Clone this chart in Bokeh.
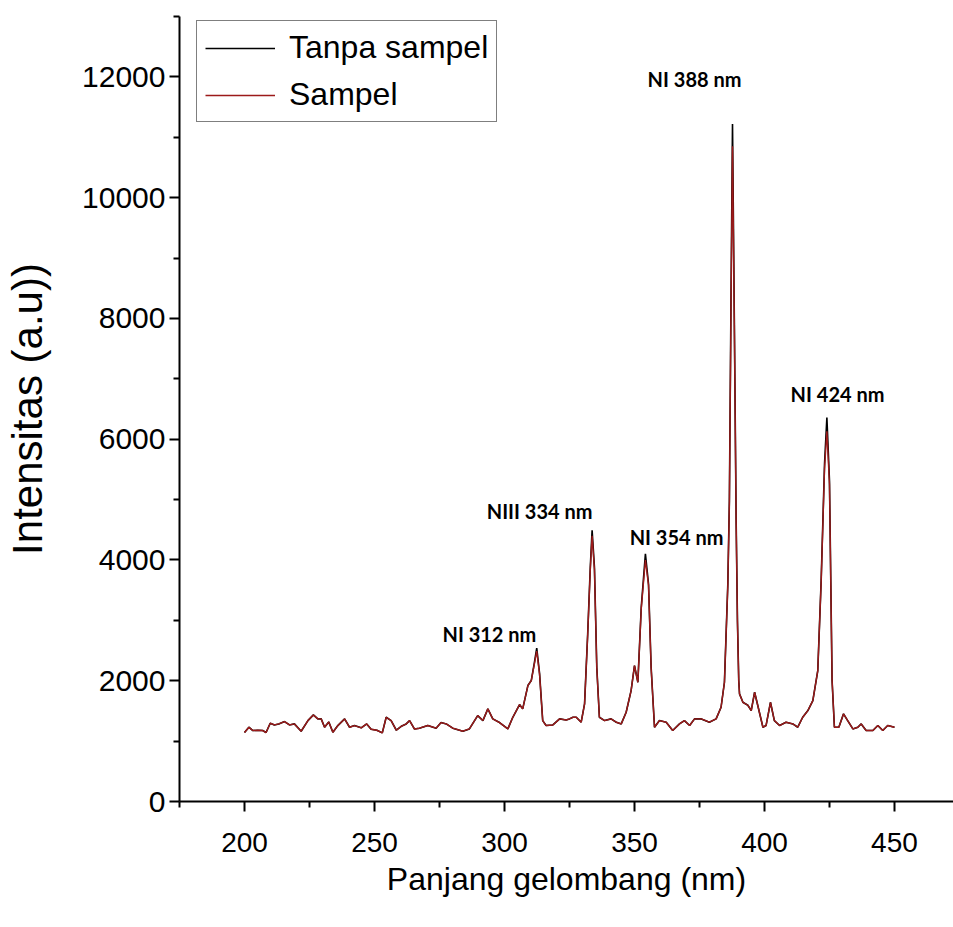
from bokeh.plotting import figure
from bokeh.models import FixedTicker, Legend, LegendItem
from bokeh.core.properties import value
from bokeh.embed import file_html
from bokeh.resources import INLINE

# ---- data ----
wavelength = [
    200.0, 201.7, 203.2, 205.1, 207.0, 208.3, 209.9, 211.5, 213.2, 215.4,
    217.3, 219.2, 221.8, 224.4, 226.5, 228.2, 229.5, 230.8, 232.4, 234.0,
    235.9, 238.5, 240.4, 242.3, 244.9, 247.0, 248.7, 250.9, 253.0, 254.5,
    256.4, 258.4, 260.3, 262.2, 263.5, 265.4, 267.3, 270.5, 273.7, 275.6,
    277.6, 280.1, 284.0, 286.5, 289.7, 291.7, 293.6, 295.5, 298.1, 301.3,
    303.2, 305.8, 307.0, 309.0, 310.3, 311.5, 312.4, 313.5, 314.7, 316.0,
    318.6, 321.2, 323.7, 325.0, 326.3, 327.6, 329.5, 330.8, 332.0, 333.0,
    333.7, 334.6, 335.5, 336.5, 338.5, 341.0, 343.0, 344.9, 346.8, 348.7,
    350.0, 351.3, 352.6, 354.2, 355.4, 356.4, 357.7, 359.6, 362.2, 364.7,
    367.3, 369.2, 371.2, 373.1, 375.7, 378.8, 381.4, 383.3, 384.6, 385.9,
    386.5, 387.1, 387.7, 388.4, 389.1, 389.6, 390.1, 390.4, 391.7, 393.6,
    394.9, 396.2, 397.4, 399.4, 400.6, 402.3, 403.8, 405.8, 408.3, 410.9,
    412.8, 414.7, 416.7, 418.6, 420.5, 421.8, 423.1, 424.0, 425.0, 426.0,
    426.9, 428.6, 430.4, 432.0, 434.0, 435.9, 437.2, 439.1, 441.7, 443.6,
    445.5, 447.4, 450.0,
]

tanpa_sampel = [
    1142, 1230, 1175, 1180, 1175, 1142, 1296, 1268, 1285, 1324,
    1268, 1285, 1164, 1340, 1434, 1368, 1368, 1230, 1318, 1147,
    1257, 1368, 1230, 1257, 1220, 1285, 1196, 1180, 1136, 1395,
    1340, 1180, 1246, 1285, 1340, 1200, 1214, 1258, 1214, 1307,
    1285, 1214, 1164, 1202, 1423, 1340, 1534, 1368, 1307, 1202,
    1395, 1605, 1534, 1920, 2003, 2300, 2540, 2118, 1340, 1258,
    1268, 1368, 1350, 1368, 1395, 1395, 1313, 1617, 2775, 3878,
    4490, 3878, 2223, 1395, 1340, 1368, 1313, 1285, 1478, 1837,
    2251, 1975, 3216, 4100, 3602, 2223, 1230, 1340, 1313, 1175,
    1285, 1340, 1258, 1368, 1368, 1313, 1368, 1561, 1975, 3602,
    4980, 8200, 11220, 8000, 4650, 3000, 2000, 1782, 1643, 1594,
    1506, 1809, 1594, 1230, 1258, 1643, 1340, 1258, 1313, 1285,
    1230, 1395, 1506, 1671, 2168, 3658, 5594, 6360, 5312, 2003,
    1230, 1230, 1451, 1340, 1202, 1230, 1285, 1175, 1175, 1258,
    1175, 1258, 1230,
]

sampel = [
    1142, 1230, 1175, 1180, 1175, 1142, 1296, 1268, 1285, 1324,
    1268, 1285, 1164, 1340, 1434, 1368, 1368, 1230, 1318, 1147,
    1257, 1368, 1230, 1257, 1220, 1285, 1196, 1180, 1136, 1395,
    1340, 1180, 1246, 1285, 1340, 1200, 1214, 1258, 1214, 1307,
    1285, 1214, 1164, 1202, 1423, 1340, 1534, 1368, 1307, 1202,
    1395, 1605, 1534, 1920, 2003, 2280, 2490, 2100, 1340, 1258,
    1268, 1368, 1350, 1368, 1395, 1395, 1313, 1617, 2760, 3840,
    4400, 3840, 2210, 1395, 1340, 1368, 1313, 1285, 1478, 1837,
    2251, 1975, 3190, 4000, 3580, 2210, 1230, 1340, 1313, 1175,
    1285, 1340, 1258, 1368, 1368, 1313, 1368, 1561, 1975, 3580,
    4950, 8050, 10850, 7900, 4620, 2980, 2000, 1782, 1643, 1594,
    1506, 1809, 1594, 1230, 1258, 1643, 1340, 1258, 1313, 1285,
    1230, 1395, 1506, 1671, 2168, 3640, 5520, 6130, 5250, 2003,
    1230, 1230, 1451, 1340, 1202, 1230, 1285, 1175, 1175, 1258,
    1175, 1258, 1230,
]

peak_labels = ["NI 312 nm", "NIII 334 nm", "NI 354 nm", "NI 388 nm", "NI 424 nm"]
label_x = [294.2, 313.5, 366.2, 373.1, 428.1]
label_y = [2780, 4816, 4386, 11966, 6752]

x_ticks = [200, 250, 300, 350, 400, 450]
x_minor = [175, 225, 275, 325, 375, 425, 475]
y_ticks = [0, 2000, 4000, 6000, 8000, 10000, 12000]
y_minor = [1000, 3000, 5000, 7000, 9000, 11000, 13000]

# ---- figure ----
p = figure(
    width=953, height=927,
    x_range=(175, 472.7), y_range=(0, 13000),
    output_backend="svg", toolbar_location=None,
    min_border_left=179, min_border_right=0,
    min_border_top=16, min_border_bottom=126,
)
p.outline_line_color = None
p.xgrid.grid_line_color = None
p.ygrid.grid_line_color = None
p.background_fill_color = "white"
p.border_fill_color = "white"

r_black = p.line(wavelength, tanpa_sampel, line_color="black", line_width=1.6)
r_red = p.line(wavelength, sampel, line_color="#9C1A1A", line_width=1.4)

p.text(x=label_x, y=label_y, text=peak_labels,
       text_align="center", text_baseline="middle",
       text_font=value("Lato"), text_font_style="bold",
       text_font_size="20px", text_color="black")

for ax in (p.xaxis[0], p.yaxis[0]):
    ax.axis_line_width = 2
    ax.axis_line_color = "black"
    ax.major_tick_line_width = 2
    ax.minor_tick_line_width = 2
    ax.major_tick_in = 0
    ax.major_tick_out = 10
    ax.minor_tick_in = 0
    ax.minor_tick_out = 6
    ax.major_label_text_font = "Liberation Sans"
    ax.axis_label_text_font = "Liberation Sans"
    ax.axis_label_text_font_style = "normal"
    ax.major_label_text_color = "black"
    ax.axis_label_text_color = "black"

p.xaxis.ticker = FixedTicker(ticks=x_ticks, minor_ticks=x_minor)
p.yaxis.ticker = FixedTicker(ticks=y_ticks, minor_ticks=y_minor)
p.xaxis.major_label_text_font_size = "28px"
p.yaxis.major_label_text_font_size = "30px"
p.xaxis.major_label_standoff = 21
p.yaxis.major_label_standoff = 4
p.xaxis.axis_label = "Panjang gelombang (nm)"
p.yaxis.axis_label = "Intensitas (a.u))"
p.xaxis.axis_label_text_font_size = "32px"
p.yaxis.axis_label_text_font_size = "42px"
p.xaxis.axis_label_standoff = 6
p.yaxis.axis_label_standoff = 28

legend = Legend(
    items=[LegendItem(label="Tanpa sampel", renderers=[r_black]),
           LegendItem(label="Sampel", renderers=[r_red])],
    location=(17, 679),
    label_text_font="Liberation Sans",
    label_text_font_size="32px",
    label_text_color="black",
    label_height=36, glyph_height=36, glyph_width=70,
    label_standoff=14, spacing=10, padding=8, margin=0,
    border_line_color="black", border_line_width=1,
    background_fill_color="white",
)
p.add_layout(legend)

open("out.html", "w").write(file_html(p, INLINE))
